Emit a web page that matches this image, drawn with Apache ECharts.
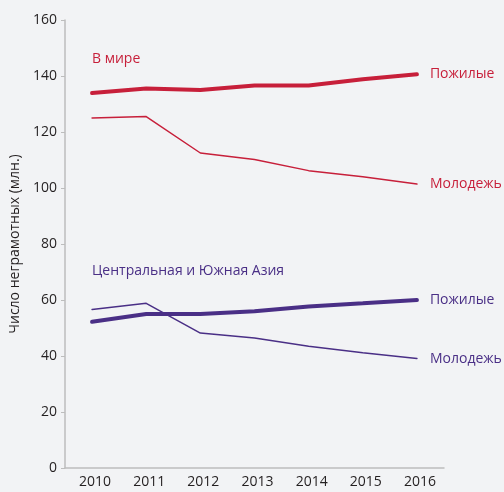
<!DOCTYPE html>
<html>
<head>
<meta charset="utf-8">
<script src="https://cdn.jsdelivr.net/npm/echarts@6/dist/echarts.min.js"></script>
<style>
  html, body { margin: 0; padding: 0; background: #f2f3f5; }
  #chart { width: 504px; height: 492px; }
</style>
</head>
<body>
<div id="chart"></div>
<script>
const years = ["2010", "2011", "2012", "2013", "2014", "2015", "2016"];
const worldOld = [133.9, 135.5, 135, 136.6, 136.6, 138.8, 140.6];
const worldYoung = [125, 125.5, 112.5, 110.2, 106.2, 104, 101.4];
const asiaOld = [52.2, 55, 55, 56, 57.7, 58.8, 60];
const asiaYoung = [56.6, 58.8, 48.2, 46.4, 43.5, 41.2, 39.1];

const RED = "#c71f3a";
const PURPLE = "#4a2f86";
const FONT = "Open Sans";

const chart = echarts.init(document.getElementById("chart"));

function line(data, color, width, label) {
  return {
    type: "line",
    data: data,
    symbol: "none",
    lineStyle: { color: color, width: width, cap: "round" },
    itemStyle: { color: color },
    endLabel: {
      show: true,
      formatter: label,
      color: color,
      fontFamily: FONT,
      fontSize: 14,
      distance: 13
    },
    animation: false
  };
}

chart.setOption({
  backgroundColor: "#f2f3f5",
  grid: { left: 65, right: 60, top: 20, bottom: 24 },
  xAxis: {
    type: "category",
    data: years,
    boundaryGap: true,
    axisLine: { lineStyle: { color: "#bdbdbd", width: 1.5 } },
    axisTick: { show: false },
    axisLabel: { color: "#231f20", fontFamily: FONT, fontSize: 14, margin: 7, padding: [0, 0, 0, 6] }
  },
  yAxis: {
    type: "value",
    min: 0,
    max: 160,
    interval: 20,
    name: "Число неграмотных (млн.)",
    nameLocation: "middle",
    nameGap: 42,
    nameTextStyle: { color: "#231f20", fontFamily: FONT, fontSize: 14 },
    splitLine: { show: false },
    axisLine: { show: true, lineStyle: { color: "#bdbdbd", width: 1.5 } },
    axisTick: { show: true, length: 4, lineStyle: { color: "#bdbdbd" } },
    axisLabel: { color: "#231f20", fontFamily: FONT, fontSize: 14, margin: 8 }
  },
  graphic: [
    {
      type: "text", left: 92, top: 52,
      style: { text: "В мире", fill: RED, font: "14px 'Open Sans'" }
    },
    {
      type: "text", left: 92, top: 264,
      style: { text: "Центральная и Южная Азия", fill: PURPLE, font: "14px 'Open Sans'" }
    }
  ],
  series: [
    line(worldOld, RED, 4, "Пожилые"),
    line(worldYoung, RED, 1.5, "Молодежь"),
    line(asiaOld, PURPLE, 4, "Пожилые"),
    line(asiaYoung, PURPLE, 1.5, "Молодежь")
  ]
});
</script>
</body>
</html>
